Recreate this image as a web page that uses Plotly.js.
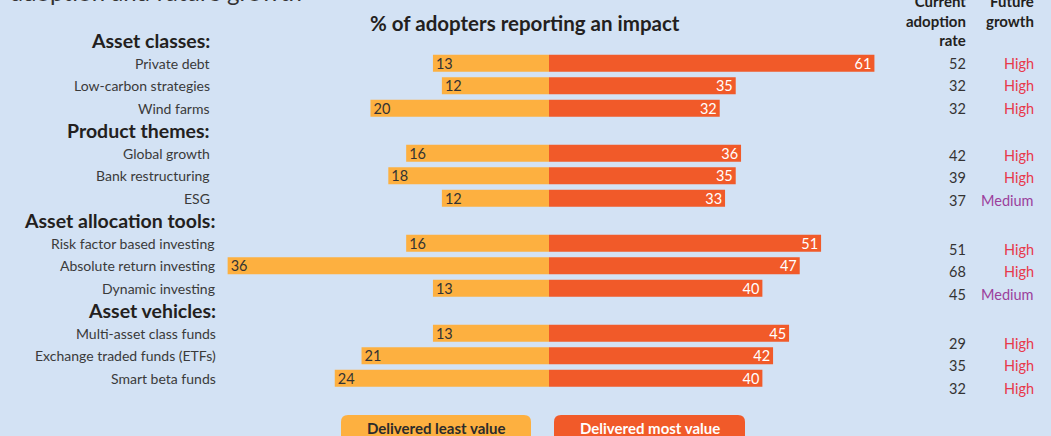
<!DOCTYPE html>
<html>
<head>
<meta charset="utf-8">
<script src="https://cdn.plot.ly/plotly-3.0.1.min.js"></script>
<style>
  html, body { margin: 0; padding: 0; background: #d3e2f4; }
  #chart { width: 1051px; height: 436px; }
</style>
</head>
<body>
<div id="chart"></div>
<script>
// ---- data ----
var categories = ["Asset classes:", "Private debt", "Low-carbon strategies", "Wind farms",
  "Product themes:", "Global growth", "Bank restructuring", "ESG",
  "Asset allocation tools:", "Risk factor based investing", "Absolute return investing", "Dynamic investing",
  "Asset vehicles:", "Multi-asset class funds", "Exchange traded funds (ETFs)", "Smart beta funds"];
var leastValue = [null, 13, 12, 20, null, 16, 18, 12, null, 16, 36, 13, null, 13, 21, 24];
var mostValue = [null, 61, 35, 32, null, 36, 35, 33, null, 51, 47, 40, null, 45, 42, 40];
var adoptionRate = [null, 52, 32, 32, null, 42, 39, 37, null, 51, 68, 45, null, 29, 35, 32];
var futureGrowth = [null, "High", "High", "High", null, "High", "High", "Medium", null, "High", "High", "Medium", null, "High", "High", "High"];
var legendLabels = ["Delivered least value", "Delivered most value"];
var chartTitle = "% of adopters reporting an impact";
var topTitle = "adoption and future growth";

// ---- layout helpers ----
var W = 1051, H = 436;
function px(x) { return x / W; }
function py(y) { return 1 - y / H; }
var FONT = "Lato, 'Open Sans', sans-serif";
var BG = "#d3e2f4";
var ORANGE = "#fdb040";
var RED = "#f15a29";
var zeroX = 549;
var groupShift = [0, -2, -6, -10];
var labelRight = [212, 212, 217, 218];

var traces = [
  {
    type: "bar", orientation: "h", x: leastValue, y: categories,
    xaxis: "x", yaxis: "y", marker: { color: ORANGE }, width: 0.76,
    texttemplate: "%{x}", textposition: "inside", insidetextanchor: "end",
    textangle: 0, constraintext: "none",
    textfont: { family: FONT, size: 14.5, color: "#333333" }, hoverinfo: "skip"
  },
  {
    type: "bar", orientation: "h", x: mostValue, y: categories,
    xaxis: "x2", yaxis: "y", marker: { color: RED }, width: 0.76,
    texttemplate: "%{x}", textposition: "inside", insidetextanchor: "end",
    textangle: 0, constraintext: "none",
    textfont: { family: FONT, size: 14.5, color: "#ffffff" }, hoverinfo: "skip"
  }
];

var annotations = [];
var group = -1;
categories.forEach(function (c, i) {
  var header = leastValue[i] === null;
  if (header) group++;
  annotations.push({
    xref: "paper", yref: "y", x: px(labelRight[group]), y: c, xanchor: "right", yanchor: "middle",
    text: header ? "<b>" + c + "</b>" : c, showarrow: false,
    font: { family: FONT, size: header ? 19.5 : 14, color: header ? "#231f20" : "#3a3a3a" }
  });
  if (!header) {
    annotations.push({
      xref: "paper", yref: "y", x: px(968), y: c, xanchor: "right", yanchor: "middle",
      yshift: groupShift[group], text: String(adoptionRate[i]), showarrow: false,
      font: { family: FONT, size: 14.5, color: "#333333" }
    });
    annotations.push({
      xref: "paper", yref: "y", x: px(1036), y: c, xanchor: "right", yanchor: "middle",
      yshift: groupShift[group], text: futureGrowth[i], showarrow: false,
      font: { family: FONT, size: 14.5, color: futureGrowth[i] === "High" ? "#e8394a" : "#9b3f9c" }
    });
  }
});

annotations.push({
  xref: "paper", yref: "paper", x: px(525), y: py(23), xanchor: "center", yanchor: "middle",
  text: "<b>" + chartTitle + "</b>", showarrow: false,
  font: { family: FONT, size: 20.5, color: "#231f20" }
});
annotations.push({
  xref: "paper", yref: "paper", x: px(968), y: py(21), xanchor: "right", yanchor: "middle",
  align: "right", text: "<b>Current<br>adoption<br>rate</b>", showarrow: false,
  font: { family: FONT, size: 15, color: "#231f20" }
});
annotations.push({
  xref: "paper", yref: "paper", x: px(1036), y: py(11), xanchor: "right", yanchor: "middle",
  align: "right", text: "<b>Future<br>growth</b>", showarrow: false,
  font: { family: FONT, size: 15, color: "#231f20" }
});
annotations.push({
  xref: "paper", yref: "paper", x: px(9), y: py(8), xanchor: "left", yanchor: "bottom",
  text: topTitle, showarrow: false,
  font: { family: FONT, size: 24, color: "#333333" }
});

// legend boxes
function roundRect(x0, y0, x1, y1, r) {
  var X = function (v) { return px(v); }, Y = function (v) { return py(v); };
  return "M" + X(x0) + "," + Y(y1) +
    " L" + X(x0) + "," + Y(y0 + r) +
    " Q" + X(x0) + "," + Y(y0) + " " + X(x0 + r) + "," + Y(y0) +
    " L" + X(x1 - r) + "," + Y(y0) +
    " Q" + X(x1) + "," + Y(y0) + " " + X(x1) + "," + Y(y0 + r) +
    " L" + X(x1) + "," + Y(y1) + " Z";
}
var boxes = [[341, 531, ORANGE, "#2b2b2b"], [554, 745, RED, "#ffffff"]];
var shapes = [];
boxes.forEach(function (b, k) {
  shapes.push({ type: "path", xref: "paper", yref: "paper", path: roundRect(b[0], 415, b[1], 446, 7),
    fillcolor: b[2], line: { width: 0 }, layer: "above" });
  annotations.push({
    xref: "paper", yref: "paper", x: px((b[0] + b[1]) / 2), y: py(428), xanchor: "center", yanchor: "middle",
    text: "<b>" + legendLabels[k] + "</b>", showarrow: false,
    font: { family: FONT, size: 15, color: b[3] }
  });
});

var yTop = 29.5, yBot = 389.5;
var layout = {
  width: W, height: H,
  margin: { l: 0, r: 0, t: 0, b: 0, pad: 0 },
  paper_bgcolor: BG, plot_bgcolor: BG,
  showlegend: false,
  xaxis: { domain: [0, px(zeroX)], range: [61.5, 0], showgrid: false, zeroline: false,
    showticklabels: false, showline: false, ticks: "", fixedrange: true },
  xaxis2: { domain: [px(zeroX), 1], range: [0, 94.1], showgrid: false, zeroline: false,
    showticklabels: false, showline: false, ticks: "", fixedrange: true },
  yaxis: { domain: [py(yBot), py(yTop)], type: "category", categoryorder: "array",
    categoryarray: categories, range: [categories.length - 0.5, -0.5],
    showgrid: false, zeroline: false, showticklabels: false, showline: false, ticks: "", fixedrange: true },
  annotations: annotations,
  shapes: shapes,
  font: { family: FONT }
};

Plotly.newPlot("chart", traces, layout, { displayModeBar: false, staticPlot: true });
</script>
</body>
</html>
